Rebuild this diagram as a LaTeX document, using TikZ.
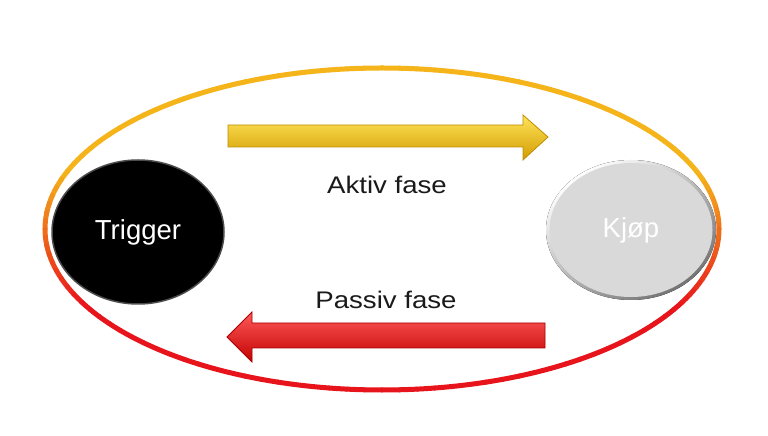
\documentclass[tikz,border=0pt]{standalone}
\usepackage{fontspec}
\setmainfont{Liberation Sans}
\newfontfamily\widefont[FakeStretch=1.15]{Liberation Sans}
\usetikzlibrary{shapes.geometric}
\definecolor{ringgold}{HTML}{F4B41A}
\definecolor{ringred}{HTML}{E8141C}
\definecolor{txt}{HTML}{1A1A1A}
\definecolor{ga}{HTML}{FFE45A}
\definecolor{gb}{HTML}{F2C40E}
\definecolor{gc}{HTML}{D29C00}
\definecolor{gd}{HTML}{C08E00}
\definecolor{ra}{HTML}{FF5A5A}
\definecolor{rb}{HTML}{F21414}
\definecolor{rc}{HTML}{C20000}
\definecolor{rd}{HTML}{A80000}
\tikzset{
  x=1pt, y=1pt,
  bubble/.style={ellipse, inner sep=0pt, font=\fontsize{27.5}{32}\selectfont, text=white},
  label/.style={font=\widefont\fontsize{24}{28}\selectfont, text=txt},
  goldarrow/.style={shading=axis, top color=ga, middle color=gb, bottom color=gc, draw=gd, line width=0.8pt},
  redarrow/.style={shading=axis, top color=ra, middle color=rb, bottom color=rc, draw=rd, line width=0.8pt},
}
\begin{document}
\begin{tikzpicture}
\useasboundingbox (0,0) rectangle (768,436);
\fill[white] (0,0) rectangle (768,436);
% outer ring with vertical gradient gold -> red
\foreach \t in {0,3,...,357}{
  \pgfmathsetmacro\p{max(0,min(100,(0.35-sin(\t+1.5))*120))}
  \draw[line width=5pt, line cap=round, color=ringred!\p!ringgold]
    ([shift={(382pt,207pt)}]\t:337pt and 161pt) arc[start angle=\t, end angle=\t+3, x radius=337pt, y radius=161pt];
}
% nodes
\node[bubble, minimum width=172pt, minimum height=144pt, fill=black, draw=black!70, line width=1.5pt] (trig) at (138,204) {Trigger};
\fill[shading=axis, top color=white, bottom color=black!55, shading angle=35] (631,206) ellipse[x radius=85pt, y radius=70pt];
\node[bubble, minimum width=163pt, minimum height=134pt, fill=black!15] (kjop) at (631,206) {Kjøp};
% arrows
\coordinate (a2) at (548,299);
\draw[goldarrow] (228,311) -- (523,311) -- (523,321) -- (a2) -- (523,276) -- (523,289) -- (228,289) -- cycle;
\coordinate (b2) at (227,99);
\draw[redarrow] (545,113) -- (252,113) -- (252,124) -- (b2) -- (252,74) -- (252,88) -- (545,88) -- cycle;
% labels
\node[label] (aktiv) at (387,251) {Aktiv fase};
\node[label] (passiv) at (386,136) {Passiv fase};
\end{tikzpicture}
\end{document}
